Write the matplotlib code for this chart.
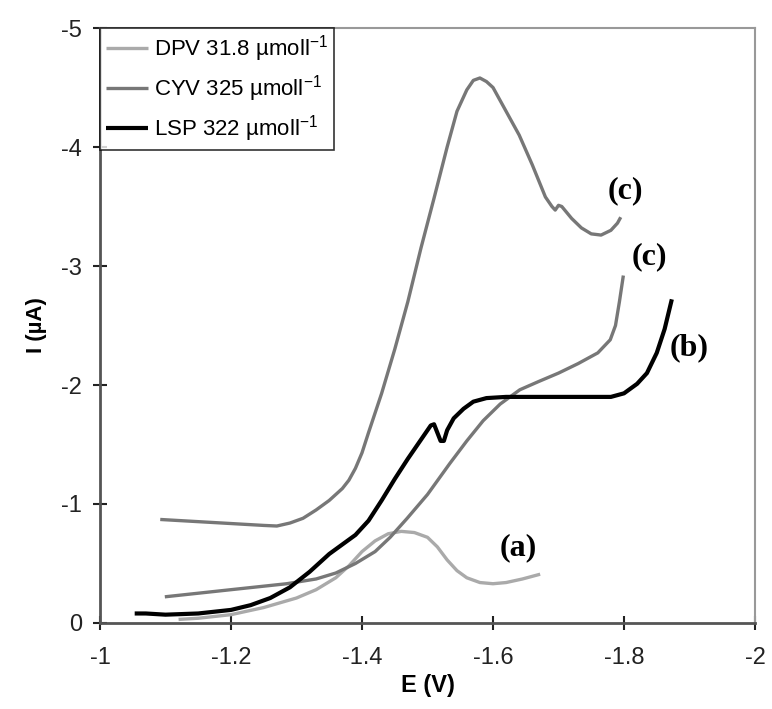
import matplotlib.pyplot as plt
import numpy as np

plt.rcParams['font.family'] = ['Liberation Sans', 'DejaVu Sans']
plt.rcParams['mathtext.default'] = 'regular'

# DPV 31.8 umol/l  (a)
dpv_e = [-1.12, -1.15, -1.20, -1.25, -1.30, -1.33, -1.36, -1.38, -1.40, -1.42, -1.44,
         -1.46, -1.48, -1.50, -1.515, -1.53, -1.545, -1.56, -1.58, -1.60, -1.62, -1.645, -1.672]
dpv_i = [-0.03, -0.04, -0.07, -0.13, -0.21, -0.28, -0.38, -0.48, -0.60, -0.69, -0.75,
         -0.77, -0.76, -0.72, -0.64, -0.53, -0.44, -0.38, -0.34, -0.33, -0.34, -0.37, -0.41]

# CYV 325 umol/l, upper curve (c)
cyv1_e = [-1.092, -1.25, -1.27, -1.29, -1.31, -1.33, -1.35, -1.36, -1.37, -1.38, -1.39, -1.40,
          -1.41, -1.43, -1.45, -1.47, -1.49, -1.51, -1.53, -1.545, -1.56, -1.57, -1.58,
          -1.59, -1.60, -1.62, -1.64, -1.66, -1.68, -1.69, -1.695, -1.70, -1.705, -1.72,
          -1.735, -1.75, -1.765, -1.78, -1.79, -1.795]
cyv1_i = [-0.87, -0.82, -0.815, -0.84, -0.88, -0.95, -1.03, -1.08, -1.13, -1.20, -1.30, -1.43,
          -1.60, -1.93, -2.30, -2.70, -3.15, -3.57, -4.00, -4.30, -4.48, -4.56, -4.58,
          -4.55, -4.50, -4.30, -4.10, -3.85, -3.58, -3.50, -3.47, -3.51, -3.50, -3.40,
          -3.32, -3.27, -3.26, -3.30, -3.36, -3.41]

# CYV 325 umol/l, lower curve (c)
cyv2_e = [-1.099, -1.20, -1.285, -1.33, -1.36, -1.39, -1.42, -1.443, -1.469, -1.50, -1.534,
          -1.56, -1.585, -1.611, -1.641, -1.67, -1.70, -1.73, -1.76, -1.779, -1.787, -1.793, -1.799]
cyv2_i = [-0.22, -0.28, -0.33, -0.37, -0.42, -0.50, -0.60, -0.72, -0.88, -1.08, -1.34,
          -1.53, -1.70, -1.84, -1.96, -2.03, -2.10, -2.18, -2.27, -2.38, -2.50, -2.70, -2.92]

# LSP 322 umol/l  (b)
lsp_e = [-1.053, -1.07, -1.10, -1.15, -1.20, -1.23, -1.26, -1.29, -1.32, -1.35, -1.37,
         -1.39, -1.41, -1.43, -1.45, -1.47, -1.49, -1.505, -1.51, -1.515, -1.52, -1.525,
         -1.53, -1.54, -1.555, -1.57, -1.59, -1.62, -1.70, -1.78, -1.80, -1.82, -1.835,
         -1.85, -1.862, -1.873]
lsp_i = [-0.08, -0.08, -0.07, -0.08, -0.11, -0.15, -0.21, -0.30, -0.43, -0.58, -0.66,
         -0.74, -0.86, -1.03, -1.21, -1.38, -1.54, -1.66, -1.67, -1.60, -1.53, -1.53,
         -1.62, -1.72, -1.80, -1.86, -1.89, -1.90, -1.90, -1.90, -1.93, -2.01, -2.10,
         -2.27, -2.47, -2.72]

fig = plt.figure(figsize=(7.72, 7.09), dpi=100)
ax = fig.add_axes([0.1295, 0.1213, 0.8485, 0.8392])

kw = dict(solid_joinstyle='round', solid_capstyle='butt')
ax.plot(dpv_e, dpv_i, color='#aaaaaa', lw=2.4, label='DPV 31.8 µmoll$^{-1}$', **kw)
ax.plot(cyv1_e, cyv1_i, color='#777777', lw=2.4, label='CYV 325 µmoll$^{-1}$', **kw)
ax.plot(cyv2_e, cyv2_i, color='#777777', lw=2.4, **kw)
ax.plot(lsp_e, lsp_i, color='black', lw=3, label='LSP 322 µmoll$^{-1}$', **kw)

ax.set_xlim(-1, -2)
ax.set_ylim(0, -5)
ax.set_xticks([-1, -1.2, -1.4, -1.6, -1.8, -2])
ax.set_xticklabels(['-1', '-1.2', '-1.4', '-1.6', '-1.8', '-2'])
ax.set_yticks([0, -1, -2, -3, -4, -5])
ax.set_yticklabels(['0', '-1', '-2', '-3', '-4', '-5'])
ax.tick_params(direction='inout', length=10, width=1.5, labelsize=17, colors='#222222')
ax.tick_params(axis='x', pad=12)
ax.tick_params(axis='y', pad=8)
for s in ['left', 'bottom']:
    ax.spines[s].set_linewidth(2)
    ax.spines[s].set_color('#555555')
for s in ['top', 'right']:
    ax.spines[s].set_linewidth(1.5)
    ax.spines[s].set_color('#999999')

ax.set_xlabel('E (V)', fontsize=17, fontweight='bold', labelpad=4)
ax.set_ylabel('I (µA)', fontsize=16, fontweight='bold', labelpad=10)

serif = dict(family=['Liberation Serif', 'DejaVu Serif'], fontsize=23, fontweight='bold')
ax.text(-1.802, -3.63, '(c)', ha='center', va='center', **serif)
ax.text(-1.838, -3.08, '(c)', ha='center', va='center', **serif)
ax.text(-1.900, -2.31, '(b)', ha='center', va='center', **serif)
ax.text(-1.638, -0.63, '(a)', ha='center', va='center', **serif)

leg = ax.legend(loc='upper left', bbox_to_anchor=(0, 1), fontsize=16, frameon=True,
                fancybox=False, edgecolor='black', handlelength=1.9, handletextpad=0.3,
                borderpad=0.25, labelspacing=0.4, borderaxespad=0)
leg.get_frame().set_linewidth(1.2)

fig.savefig('out.png', dpi=100)
